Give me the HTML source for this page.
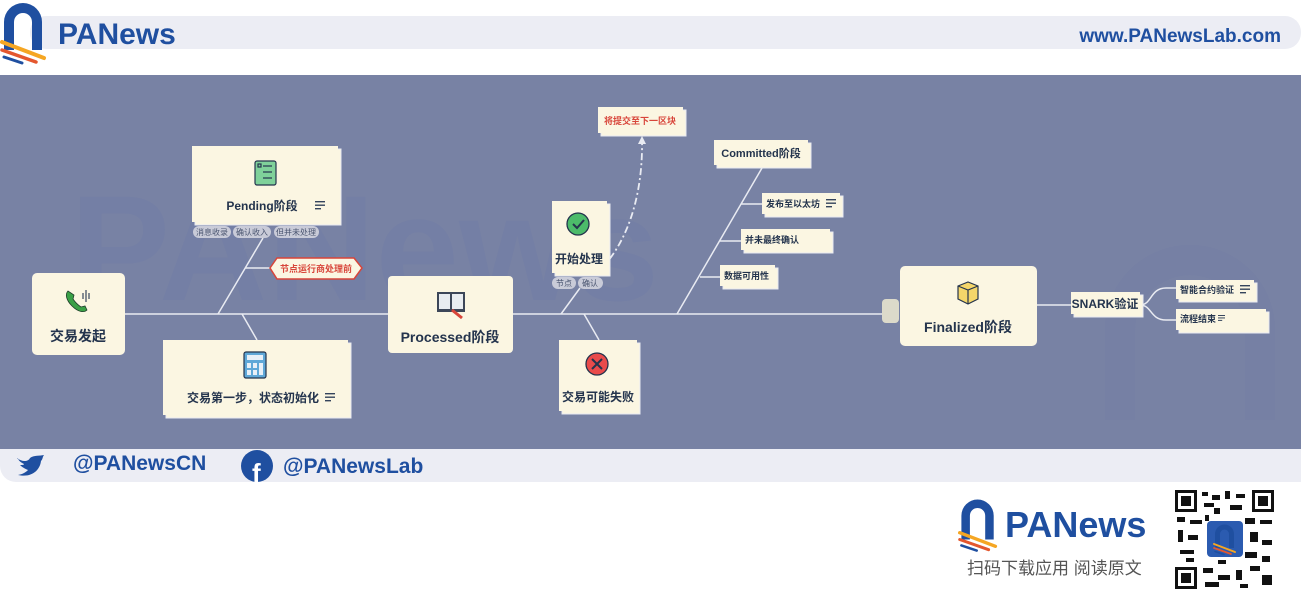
<!DOCTYPE html>
<html><head><meta charset="utf-8"><style>
html,body{margin:0;padding:0;background:#fff;}
body{width:1301px;height:604px;overflow:hidden;position:relative;font-family:"Liberation Sans","Noto Sans CJK SC",sans-serif;}
svg{position:absolute;left:0;top:0;}
text{font-family:"Liberation Sans","Noto Sans CJK SC",sans-serif;}
</style></head><body>
<svg width="1301" height="604" viewBox="0 0 1301 604" xmlns="http://www.w3.org/2000/svg">
<defs>
<g id="lst"><rect x="0" y="0" width="10" height="1.4" fill="#34445c"/><rect x="0" y="3.5" width="10" height="1.4" fill="#34445c"/><rect x="0" y="7" width="6" height="1.4" fill="#34445c"/></g>
<g id="logo">
<path d="M4 50 V22 A19 19 0 0 1 42 22 V50 H32 V22 A9 9 0 0 0 14 22 V50 Z" fill="#1f4fa0"/>
<path d="M2 42 L44 58" stroke="#f5a623" stroke-width="4" stroke-linecap="round"/>
<path d="M2 50 L36 62" stroke="#e4572e" stroke-width="3.5" stroke-linecap="round"/>
<path d="M4 57 L22 63" stroke="#1f4fa0" stroke-width="3" stroke-linecap="round"/>
</g>
</defs>
<!-- header -->
<rect x="30" y="16" width="1271" height="33" rx="16" fill="#ecedf4"/>
<use href="#logo" x="0" y="0"/>
<text x="58" y="44" font-size="30" font-weight="bold" fill="#1f4fa0">PANews</text>
<text x="1281" y="42" font-size="19" font-weight="bold" fill="#1f4fa0" text-anchor="end">www.PANewsLab.com</text>
<!-- blue area -->
<rect x="0" y="75" width="1301" height="374" fill="#7882a4"/>
<text x="70" y="300" font-size="150" font-weight="bold" fill="#737ea6" opacity="0.6">PANews</text>
<path d="M1120 420 V330 A70 70 0 0 1 1260 330 V420" stroke="#737da3" stroke-width="30" fill="none" opacity="0.5"/>
<!-- footer bar -->
<path d="M0 449 H1301 V482 H16 A16 16 0 0 1 0 466 Z" fill="#ecedf4"/>
<path d="M17 458 C22 462 28 462 30 458 C34 455 40 456 44 455 C42 458 43 459 41 461 C40 470 32 478 18 475 C24 474 27 471 28 470 C23 468 21 466 20 465 C22 465 24 465 24 464 C20 462 18 460 18 458 Z" fill="#1f4fa0"/>
<text x="73" y="470" font-size="21" font-weight="bold" fill="#1f4fa0">@PANewsCN</text>
<circle cx="257" cy="466" r="16" fill="#1f4fa0"/>
<text x="252" y="482" font-size="26" font-weight="bold" fill="#fff">f</text>
<text x="283" y="473" font-size="21" font-weight="bold" fill="#1f4fa0">@PANewsLab</text>
<!-- bottom right -->
<use href="#logo" transform="translate(958,497) scale(0.85)"/>
<text x="1005" y="537" font-size="36" font-weight="bold" fill="#1f4fa0">PANews</text>
<text x="967" y="574" font-size="17" fill="#555">扫码下载应用  阅读原文</text>
<rect x="1173" y="488" width="103" height="103" fill="#fff"/>
<g fill="#111">
<rect x="1175" y="490" width="22" height="22"/><rect x="1252" y="490" width="22" height="22"/><rect x="1175" y="567" width="22" height="22"/>
</g>
<g fill="#fff"><rect x="1178" y="493" width="16" height="16"/><rect x="1255" y="493" width="16" height="16"/><rect x="1178" y="570" width="16" height="16"/></g>
<g fill="#111"><rect x="1181" y="496" width="10" height="10"/><rect x="1258" y="496" width="10" height="10"/><rect x="1181" y="573" width="10" height="10"/>
<rect x="1202" y="492" width="6" height="4"/><rect x="1212" y="495" width="8" height="5"/><rect x="1225" y="491" width="5" height="8"/><rect x="1236" y="494" width="9" height="4"/>
<rect x="1204" y="503" width="10" height="4"/><rect x="1230" y="505" width="12" height="5"/><rect x="1177" y="517" width="8" height="5"/><rect x="1190" y="520" width="12" height="4"/>
<rect x="1245" y="518" width="10" height="6"/><rect x="1260" y="520" width="12" height="4"/><rect x="1178" y="530" width="5" height="12"/><rect x="1188" y="535" width="10" height="5"/>
<rect x="1250" y="532" width="8" height="10"/><rect x="1262" y="540" width="10" height="5"/><rect x="1180" y="550" width="14" height="4"/><rect x="1245" y="552" width="12" height="6"/>
<rect x="1203" y="568" width="10" height="5"/><rect x="1218" y="575" width="12" height="5"/><rect x="1236" y="570" width="6" height="10"/><rect x="1250" y="566" width="10" height="5"/>
<rect x="1262" y="575" width="10" height="10"/><rect x="1205" y="582" width="14" height="5"/><rect x="1240" y="584" width="8" height="4"/><rect x="1205" y="515" width="4" height="6"/>
<rect x="1186" y="558" width="8" height="4"/><rect x="1262" y="556" width="8" height="6"/><rect x="1218" y="560" width="8" height="4"/><rect x="1214" y="508" width="6" height="6"/></g>
<rect x="1207" y="521" width="36" height="36" rx="4" fill="#2b5bb0"/>
<use href="#logo" transform="translate(1213,523) scale(0.5)"/>

<!-- connectors -->
<g stroke="#e9ebf2" stroke-width="1.5" fill="none">
<line x1="125" y1="314" x2="884" y2="314"/>
<line x1="218" y1="314" x2="263" y2="238"/>
<line x1="245" y1="268" x2="270" y2="268"/>
<line x1="242" y1="314" x2="257" y2="340"/>
<line x1="561" y1="314" x2="580" y2="288"/>
<line x1="584" y1="314" x2="599" y2="340"/>
<line x1="677" y1="314" x2="762" y2="168"/>
<line x1="741" y1="204" x2="762" y2="204"/>
<line x1="720" y1="241" x2="741" y2="241"/>
<line x1="700" y1="277" x2="720" y2="277"/>
<line x1="1036" y1="305" x2="1071" y2="305"/>
<path d="M1140 305 C1152 305 1150 288 1166 288 H1176"/>
<path d="M1140 305 C1152 305 1150 320 1166 320 H1176"/>
<path d="M600 270 C630 240 643 190 642 140" stroke-dasharray="7 3 2 3" stroke-width="1.8"/>
</g>
<path d="M638 144 L642 136 L646 144 Z" fill="#e9ebf2"/>

<!-- nodes -->
<g>
<rect x="32" y="273" width="93" height="82" rx="5" fill="#fbf6e2"/>
<path d="M68 291 C65 294 66 300 72 306 C78 312 84 313 87 310 L85 306 L81 307 C78 305 75 302 73 299 L74 295 Z" fill="#3aa046" stroke="#1e3c2a" stroke-width="0.8"/>
<g stroke="#34445c" stroke-width="1.2"><line x1="83" y1="293" x2="83" y2="299"/><line x1="86" y1="290" x2="86" y2="302"/><line x1="89" y1="293" x2="89" y2="299"/></g>
<text x="78" y="341" font-size="14" font-weight="bold" fill="#24344d" text-anchor="middle">交易发起</text>

<rect x="195" y="149" width="146" height="76" fill="#fbf6e2" stroke="#e9ebf2"/>
<rect x="192" y="146" width="146" height="76" fill="#fbf6e2"/>
<rect x="255" y="161" width="21" height="24" rx="2" fill="#7fd19a" stroke="#24344d" stroke-width="1.2"/>
<g stroke="#24344d" stroke-width="1.2"><line x1="263" y1="166" x2="272" y2="166"/><line x1="263" y1="172" x2="272" y2="172"/><line x1="263" y1="178" x2="272" y2="178"/><rect x="258" y="164" width="3" height="3" fill="none"/></g>
<text x="262" y="210" font-size="12" font-weight="bold" fill="#24344d" text-anchor="middle">Pending阶段</text>
<use href="#lst" x="315" y="201"/>
<g font-size="8" fill="#4a5570">
<rect x="193" y="226" width="38" height="12" rx="6" fill="#c9cbd8"/><text x="212" y="235" text-anchor="middle">消息收录</text>
<rect x="233" y="226" width="38" height="12" rx="6" fill="#c9cbd8"/><text x="252" y="235" text-anchor="middle">确认收入</text>
<rect x="274" y="226" width="45" height="12" rx="6" fill="#c9cbd8"/><text x="296" y="235" text-anchor="middle">但并未处理</text>
</g>
<path d="M270 268 L277 258 H354 L362 268 L354 279 H277 Z" fill="#fbf6e2" stroke="#d8453a" stroke-width="1.5"/>
<text x="316" y="272" font-size="9" font-weight="bold" fill="#d8453a" text-anchor="middle">节点运行商处理前</text>

<rect x="166" y="343" width="185" height="75" fill="#fbf6e2" stroke="#e9ebf2"/>
<rect x="163" y="340" width="185" height="75" fill="#fbf6e2"/>
<rect x="244" y="352" width="22" height="26" rx="2" fill="#5fa8d8" stroke="#24344d" stroke-width="1.2"/>
<rect x="247" y="355" width="16" height="5" fill="#e8f0f8"/>
<g fill="#e8f0f8"><rect x="247" y="363" width="4" height="5"/><rect x="253" y="363" width="4" height="5"/><rect x="259" y="363" width="4" height="12"/><rect x="247" y="370" width="4" height="5"/><rect x="253" y="370" width="4" height="5"/></g>
<text x="253" y="402" font-size="12" font-weight="bold" fill="#24344d" text-anchor="middle">交易第一步，状态初始化</text>
<use href="#lst" x="325" y="393"/>

<rect x="388" y="276" width="125" height="77" rx="4" fill="#fbf6e2"/>
<rect x="437" y="292" width="28" height="20" fill="#3c4658"/>
<rect x="439" y="294" width="11" height="15" fill="#e8ecf0"/><rect x="452" y="294" width="11" height="15" fill="#e8ecf0"/>
<line x1="452" y1="310" x2="462" y2="318" stroke="#d8453a" stroke-width="3"/>
<text x="450" y="342" font-size="14" font-weight="bold" fill="#24344d" text-anchor="middle">Processed阶段</text>

<rect x="555" y="204" width="55" height="72" fill="#fbf6e2" stroke="#e9ebf2"/>
<rect x="552" y="201" width="55" height="72" fill="#fbf6e2"/>
<circle cx="578" cy="224" r="11" fill="#4cbb6a" stroke="#24344d" stroke-width="1.3"/>
<path d="M573 224 L577 228 L584 220" stroke="#24344d" stroke-width="2" fill="none"/>
<text x="579" y="263" font-size="12" font-weight="bold" fill="#24344d" text-anchor="middle">开始处理</text>
<g font-size="8" fill="#4a5570">
<rect x="552" y="277" width="24" height="12" rx="6" fill="#c9cbd8"/><text x="564" y="286" text-anchor="middle">节点</text>
<rect x="578" y="277" width="25" height="12" rx="6" fill="#c9cbd8"/><text x="590" y="286" text-anchor="middle">确认</text>
</g>
<rect x="601" y="110" width="85" height="26" fill="#fbf6e2" stroke="#e9ebf2"/>
<rect x="598" y="107" width="85" height="26" fill="#fbf6e2"/>
<text x="640" y="124" font-size="9" font-weight="bold" fill="#d8453a" text-anchor="middle">将提交至下一区块</text>

<rect x="562" y="343" width="78" height="71" fill="#fbf6e2" stroke="#e9ebf2"/>
<rect x="559" y="340" width="78" height="71" fill="#fbf6e2"/>
<circle cx="597" cy="364" r="11" fill="#e94b4b" stroke="#24344d" stroke-width="1.3"/>
<path d="M592 359 L602 369 M602 359 L592 369" stroke="#24344d" stroke-width="2"/>
<text x="598" y="401" font-size="12" font-weight="bold" fill="#24344d" text-anchor="middle">交易可能失败</text>

<rect x="717" y="143" width="94" height="25" fill="#fbf6e2" stroke="#e9ebf2"/>
<rect x="714" y="140" width="94" height="25" fill="#fbf6e2"/>
<text x="761" y="157" font-size="11" font-weight="bold" fill="#24344d" text-anchor="middle">Committed阶段</text>
<rect x="765" y="196" width="78" height="21" fill="#fbf6e2" stroke="#e9ebf2"/>
<rect x="762" y="193" width="78" height="21" fill="#fbf6e2"/>
<text x="766" y="207" font-size="9" font-weight="bold" fill="#24344d">发布至以太坊</text>
<use href="#lst" x="826" y="199"/>
<rect x="744" y="232" width="89" height="21" fill="#fbf6e2" stroke="#e9ebf2"/>
<rect x="741" y="229" width="89" height="21" fill="#fbf6e2"/>
<text x="745" y="243" font-size="9" font-weight="bold" fill="#24344d">并未最终确认</text>
<rect x="723" y="268" width="55" height="21" fill="#fbf6e2" stroke="#e9ebf2"/>
<rect x="720" y="265" width="55" height="21" fill="#fbf6e2"/>
<text x="724" y="279" font-size="9" font-weight="bold" fill="#24344d">数据可用性</text>

<rect x="882" y="299" width="17" height="24" rx="4" fill="#dcdaca"/>
<rect x="900" y="266" width="137" height="80" rx="5" fill="#fbf6e2"/>
<path d="M958 286 L968 282 L978 286 V299 L968 304 L958 299 Z" fill="#f4d66a" stroke="#24344d" stroke-width="1.2"/>
<path d="M958 286 L968 290 L978 286 M968 290 V304" stroke="#24344d" stroke-width="1.2" fill="none"/>
<text x="968" y="332" font-size="14" font-weight="bold" fill="#24344d" text-anchor="middle">Finalized阶段</text>

<rect x="1074" y="295" width="69" height="22" fill="#fbf6e2" stroke="#e9ebf2"/>
<rect x="1071" y="292" width="69" height="22" fill="#fbf6e2"/>
<text x="1105" y="308" font-size="12" font-weight="bold" fill="#24344d" text-anchor="middle">SNARK验证</text>
<rect x="1179" y="283" width="78" height="19" fill="#fbf6e2" stroke="#e9ebf2"/>
<rect x="1176" y="280" width="78" height="19" fill="#fbf6e2"/>
<text x="1180" y="293" font-size="9" font-weight="bold" fill="#24344d">智能合约验证</text>
<use href="#lst" x="1240" y="285"/>
<rect x="1179" y="312" width="90" height="21" fill="#fbf6e2" stroke="#e9ebf2"/>
<rect x="1176" y="309" width="90" height="21" fill="#fbf6e2"/>
<text x="1180" y="322" font-size="9" font-weight="bold" fill="#24344d">流程结束</text>
<use href="#lst" transform="translate(1218,315) scale(0.7)"/>
</g>
</svg>
</body></html>
